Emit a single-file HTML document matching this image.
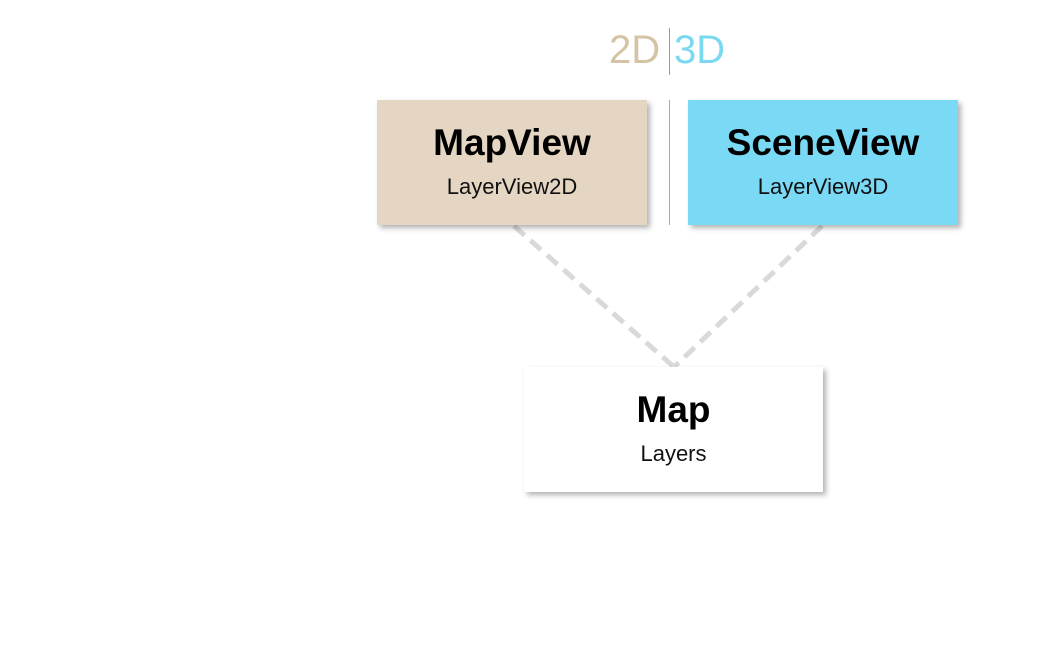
<!DOCTYPE html>
<html><head><style>
body{margin:0;width:1057px;height:652px;background:#fff;position:relative;overflow:hidden;font-family:"Liberation Sans",sans-serif}
.box{position:absolute;width:270px;height:125px;box-shadow:3px 3px 5px rgba(0,0,0,0.3);text-align:center}
.t{position:absolute;left:0;right:0;top:22px;font-size:37px;font-weight:bold;color:#000;letter-spacing:0px}
.s{position:absolute;left:0;right:0;top:74px;font-size:22px;color:#111}
.abs{position:absolute}
</style></head><body>
<svg class="abs" style="left:0;top:0" width="1057" height="652">
<line x1="514" y1="226" x2="674" y2="367" stroke="#d9d9d9" stroke-width="5" stroke-dasharray="14 8"/>
<line x1="822" y1="226" x2="674" y2="367" stroke="#d9d9d9" stroke-width="5" stroke-dasharray="14 8"/>
<line x1="669.5" y1="28" x2="669.5" y2="75" stroke="#999" stroke-width="1"/>
<line x1="669.5" y1="100" x2="669.5" y2="225" stroke="#aaa" stroke-width="1"/>
</svg>
<div class="abs" style="left:609px;top:28px;font-size:40px;color:#d5c3a5;font-weight:300">2D</div>
<div class="abs" style="left:674px;top:28px;font-size:40px;color:#7ad8f0;font-weight:300">3D</div>
<div class="box" style="left:377px;top:100px;background:#e4d6c2"><div class="t">MapView</div><div class="s">LayerView2D</div></div>
<div class="box" style="left:688px;top:100px;background:#7ad9f4"><div class="t">SceneView</div><div class="s">LayerView3D</div></div>
<div class="box" style="left:524px;top:367px;width:299px;background:#fff"><div class="t">Map</div><div class="s">Layers</div></div>
</body></html>
